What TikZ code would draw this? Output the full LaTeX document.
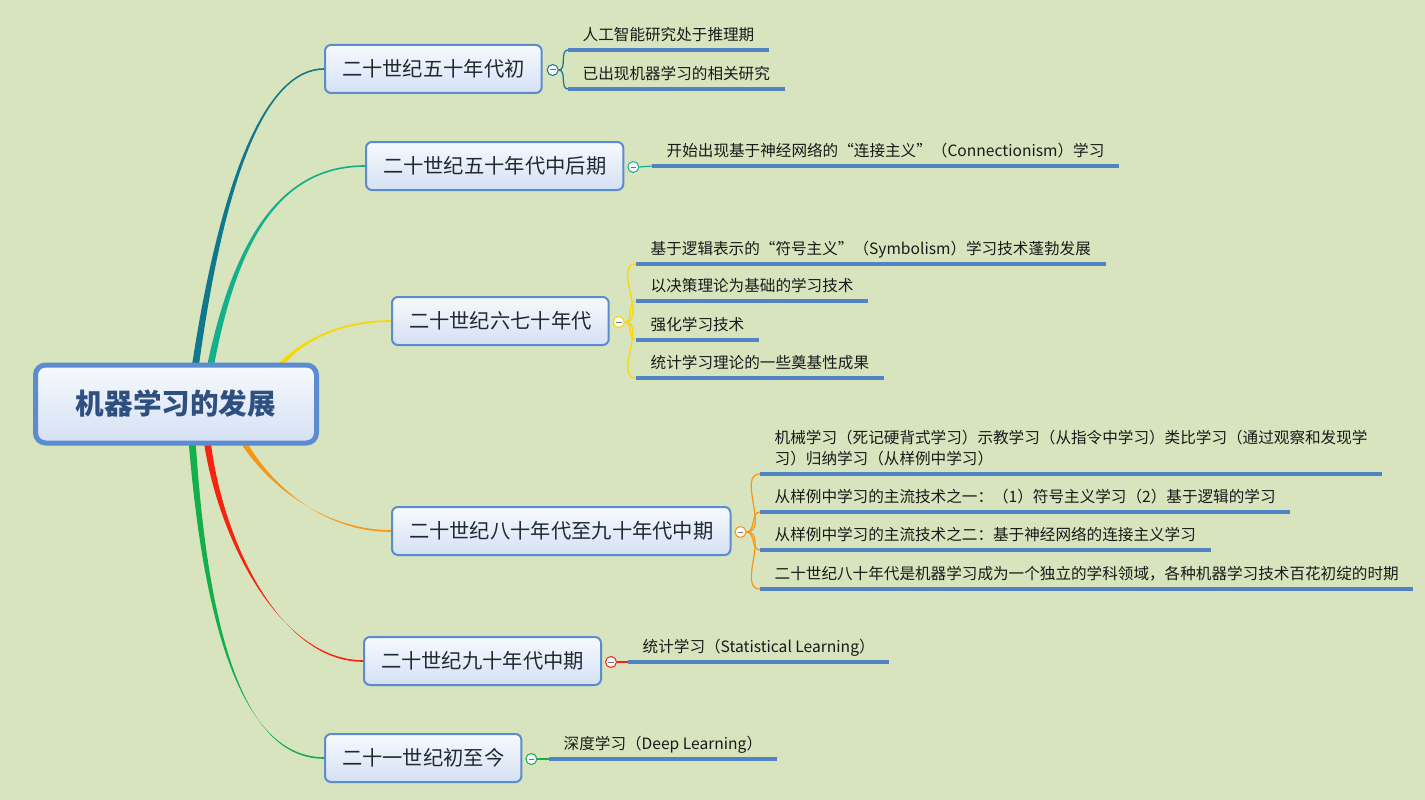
\documentclass[tikz,border=0pt]{standalone}
\usepackage{fontspec}
\setmainfont{Noto Sans CJK SC}
\usetikzlibrary{calc,backgrounds}

\definecolor{bgcol}{RGB}{216,228,190}
\definecolor{boxline}{RGB}{92,140,208}
\definecolor{boxtop}{RGB}{247,250,254}
\definecolor{boxbot}{RGB}{212,224,243}
\definecolor{rootfg}{RGB}{47,79,128}
\definecolor{topicfg}{RGB}{32,40,50}
\definecolor{leafblue}{RGB}{84,131,197}
\definecolor{brA}{RGB}{16,120,140}
\definecolor{brB}{RGB}{20,176,140}
\definecolor{brC}{RGB}{250,215,0}
\definecolor{brD}{RGB}{245,150,20}
\definecolor{brE}{RGB}{245,35,15}
\definecolor{brF}{RGB}{20,175,75}

\newcommand{\rootfont}{\fontsize{28.6}{34}\selectfont\bfseries}
\newcommand{\topicfont}{\fontsize{20.3}{24}\selectfont}
\newcommand{\leaffont}{\fontsize{15.6}{21}\selectfont}

% tapered main branch: colour, start, control 1, control 2, end
\newcommand{\branchline}[5]{%
  \fill[#1] ($(#2)+(-3.5,0)$) .. controls ($(#3)+(-2,0)$) and ($(#4)+(0,-1)$) .. ($(#5)+(0,-0.8)$)
    -- ($(#5)+(0,0.8)$) .. controls ($(#4)+(0,1)$) and ($(#3)+(2,0)$) .. ($(#2)+(3.5,0)$) -- cycle;}

\begin{document}
\begin{tikzpicture}[x=1pt,y=-1pt]
	\tikzstyle{topic}=[draw=boxline,line width=2pt,rounded corners=6pt,top color=boxtop,bottom color=boxbot,minimum height=48pt,inner xsep=17pt,anchor=west,text=topicfg,font=\topicfont]
	\tikzstyle{leaf}=[anchor=south west,inner xsep=14.5pt,inner ysep=5pt,text depth=4pt,font=\leaffont,align=left,text=black!90]
	\tikzstyle{fold}=[circle,fill=white!85!boxbot,minimum size=11pt,inner sep=0pt,line width=1pt,path picture={\draw[black!55,line width=1pt] ($(path picture bounding box.center)+(-2.8,0)$) -- ++(5.6,0);}]
	\tikzstyle{twig}=[line width=1.2pt]
	\tikzstyle{underbar}=[draw=leafblue,line width=3.5pt]

	\useasboundingbox (0,0) rectangle (1425,800);

	\node[draw=boxline,line width=5pt,rounded corners=10pt,top color=boxtop,bottom color=boxbot,minimum width=281pt,minimum height=78pt,text=rootfg,font=\rootfont] (root) at (176,404) {机器学习的发展};

	\node[topic] (p1) at (324,69) {二十世纪五十年代初};
	\node[topic] (p2) at (365,166) {二十世纪五十年代中后期};
	\node[topic] (p3) at (391,321) {二十世纪六七十年代};
	\node[topic] (p4) at (391,531) {二十世纪八十年代至九十年代中期};
	\node[topic] (p5) at (363,661) {二十世纪九十年代中期};
	\node[topic] (p6) at (324,758) {二十一世纪初至今};

	\node[fold,draw=brA] (k1) at ($(p1.east)+(10,1)$) {};
	\node[fold,draw=brB] (k2) at ($(p2.east)+(9,1)$) {};
	\node[fold,draw=brC] (k3) at ($(p3.east)+(9,1)$) {};
	\node[fold,draw=brD] (k4) at ($(p4.east)+(9,1)$) {};
	\node[fold,draw=brE] (k5) at ($(p5.east)+(9,1)$) {};
	\node[fold,draw=brF] (k6) at ($(p6.east)+(9,1)$) {};

	\node[leaf] (a1) at (568,50) {人工智能研究处于推理期};
	\node[leaf] (a2) at (568,89) {已出现机器学习的相关研究};
	\node[leaf] (b1) at (652,166) {开始出现基于神经网络的“连接主义”（Connectionism）学习};
	\node[leaf] (c1) at (636,264) {基于逻辑表示的“符号主义”（Symbolism）学习技术蓬勃发展};
	\node[leaf] (c2) at (636,301) {以决策理论为基础的学习技术};
	\node[leaf] (c3) at (636,340) {强化学习技术};
	\node[leaf] (c4) at (636,378) {统计学习理论的一些奠基性成果};
	\node[leaf] (d1) at (760,474) {机械学习（死记硬背式学习）示教学习（从指令中学习）类比学习（通过观察和发现学\\习）归纳学习（从样例中学习）};
	\node[leaf] (d2) at (760,512) {从样例中学习的主流技术之一：（1）符号主义学习（2）基于逻辑的学习};
	\node[leaf] (d3) at (760,550) {从样例中学习的主流技术之二：基于神经网络的连接主义学习};
	\node[leaf] (d4) at (760,589) {二十世纪八十年代是机器学习成为一个独立的学科领域，各种机器学习技术百花初绽的时期};
	\node[leaf] (e1) at (628,662) {统计学习（Statistical Learning）};
	\node[leaf] (f1) at (549,759) {深度学习（Deep Learning）};

	\foreach \n in {a1,a2,b1,c1,c2,c3,c4,d1,d2,d3,d4,e1,f1}
		\draw[underbar] (\n.south west) -- (\n.south east);

	% sub branches
	\foreach \n in {a1,a2} \draw[twig,brA] (k1.east) to[out=0,in=180] (\n.south west);
	\draw[twig,brB] (k2.east) -- (b1.south west);
	\foreach \n in {c1,c2,c3,c4} \draw[twig,brC] (k3.east) to[out=0,in=180] (\n.south west);
	\foreach \n in {d1,d2,d3,d4} \draw[twig,brD] (k4.east) to[out=0,in=180] (\n.south west);
	\draw[twig,brE] (k5.east) -- (e1.south west);
	\draw[twig,brF] (k6.east) -- (f1.south west);

	% main branches, behind the boxes
	\begin{scope}[on background layer]
		\fill[bgcol] (0,0) rectangle (1425,800);
		\coordinate (r1) at ($(root.north)+(19,6)$);
		\coordinate (r2) at ($(root.north)+(34,6)$);
		\coordinate (r3) at ($(root.north)+(100,8)$);
		\coordinate (r4) at ($(root.south)+(66,-6)$);
		\coordinate (r5) at ($(root.south)+(31,-6)$);
		\coordinate (r6) at ($(root.south)+(16,-6)$);
		\branchline{brA}{r1}{222,180}{265,69}{p1.west}
		\branchline{brB}{r2}{235,240}{280,166}{p2.west}
		\branchline{brC}{r3}{295,345}{335,321}{p3.west}
		\branchline{brD}{r4}{265,480}{320,531}{p4.west}
		\branchline{brE}{r5}{220,540}{280,661}{p5.west}
		\branchline{brF}{r6}{205,620}{240,758}{p6.west}
	\end{scope}
\end{tikzpicture}
\end{document}
